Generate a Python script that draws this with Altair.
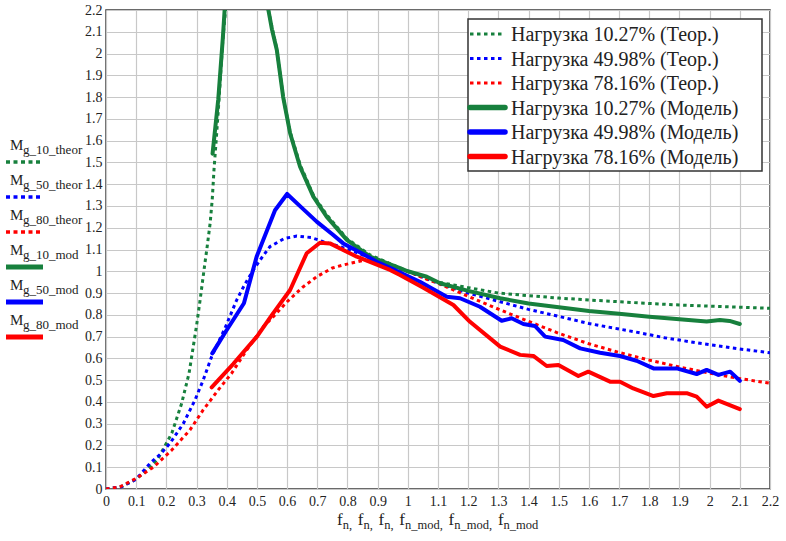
import altair as alt
import pandas as pd

# ---------------- data ----------------
x_th10 = [0, 0.05, 0.10, 0.15, 0.173, 0.20, 0.218, 0.25, 0.275, 0.30, 0.311, 0.328, 0.334, 0.345, 0.352, 0.358,
          0.365, 0.375, 0.387, 0.396, 0.41, 0.43, 0.50, 0.52, 0.538, 0.55, 0.566, 0.587, 0.61, 0.643, 0.687, 0.731,
          0.798, 0.875, 0.95, 1.0, 1.1, 1.2, 1.3, 1.4, 1.5, 1.6, 1.7, 1.8, 1.9, 2.0, 2.1, 2.2]
y_th10 = [0, 0.01, 0.045, 0.105, 0.141, 0.21, 0.256, 0.39, 0.53, 0.75, 0.86, 1.04, 1.10, 1.22, 1.33, 1.47,
          1.60, 1.80, 2.06, 2.2, 2.6, 3.5, 3.5, 2.6, 2.2, 2.12, 2.02, 1.80, 1.64, 1.49, 1.35, 1.26,
          1.15, 1.075, 1.03, 1.0, 0.95, 0.925, 0.90, 0.888, 0.877, 0.868, 0.86, 0.852, 0.845, 0.84, 0.835, 0.83]

x_th50 = [0, 0.05, 0.10, 0.146, 0.18, 0.212, 0.256, 0.295, 0.322, 0.35, 0.394, 0.433, 0.46, 0.488, 0.52, 0.543,
          0.59, 0.632, 0.68, 0.72, 0.76, 0.808, 0.85, 0.9, 0.95, 1.0, 1.1, 1.2, 1.306, 1.4, 1.527, 1.6, 1.747,
          1.85, 1.968, 2.1, 2.2]
y_th50 = [0, 0.01, 0.045, 0.118, 0.16, 0.21, 0.30, 0.409, 0.50, 0.608, 0.738, 0.868, 0.94, 1.006, 1.07, 1.113,
          1.15, 1.162, 1.155, 1.136, 1.12, 1.098, 1.075, 1.045, 1.02, 1.0, 0.945, 0.90, 0.86, 0.825, 0.784, 0.76, 0.723,
          0.695, 0.669, 0.643, 0.626]

x_th80 = [0, 0.046, 0.10, 0.157, 0.218, 0.278, 0.322, 0.372, 0.416, 0.466, 0.521, 0.56, 0.60, 0.65, 0.698, 0.75,
          0.786, 0.853, 0.9, 0.95, 1.0, 1.05, 1.1, 1.2, 1.3, 1.4, 1.5, 1.6, 1.7, 1.8, 1.9, 2.0, 2.1, 2.2]
y_th80 = [0, 0.01, 0.049, 0.10, 0.179, 0.271, 0.363, 0.455, 0.531, 0.638, 0.745, 0.80, 0.86, 0.925, 0.975, 1.015,
          1.029, 1.05, 1.045, 1.025, 1.0, 0.97, 0.945, 0.885, 0.826, 0.77, 0.715, 0.667, 0.627, 0.592, 0.56, 0.532, 0.507, 0.486]

x_mod10 = [0.353, 0.372, 0.387, 0.40, 0.53, 0.538, 0.55, 0.566, 0.587, 0.61, 0.643, 0.687, 0.731, 0.798, 0.875,
           0.974, 1.0, 1.063, 1.107, 1.2, 1.306, 1.4, 1.527, 1.6, 1.7, 1.8, 1.9, 1.99, 2.034, 2.066, 2.10]
y_mod10 = [1.54, 1.79, 2.07, 2.35, 2.35, 2.2, 2.11, 2.016, 1.80, 1.634, 1.48, 1.343, 1.251, 1.144, 1.067,
           1.014, 1.0, 0.975, 0.945, 0.91, 0.876, 0.852, 0.83, 0.818, 0.805, 0.791, 0.78, 0.769, 0.776, 0.772, 0.758]

x_mod50 = [0.352, 0.40, 0.457, 0.499, 0.56, 0.60, 0.65, 0.698, 0.75, 0.786, 0.85, 0.897, 0.95, 1.04, 1.129, 1.173,
           1.239, 1.311, 1.344, 1.383, 1.421, 1.455, 1.515, 1.571, 1.637, 1.703, 1.758, 1.814, 1.891, 1.957, 1.99,
           2.029, 2.068, 2.10]
y_mod50 = [0.623, 0.73, 0.853, 1.067, 1.28, 1.355, 1.29, 1.228, 1.17, 1.128, 1.08, 1.044, 1.01, 0.952, 0.883, 0.876,
           0.837, 0.773, 0.784, 0.758, 0.749, 0.70, 0.684, 0.646, 0.626, 0.611, 0.589, 0.554, 0.554, 0.528, 0.547,
           0.524, 0.539, 0.497]

x_mod80 = [0.35, 0.422, 0.50, 0.55, 0.61, 0.665, 0.709, 0.742, 0.831, 0.941, 0.974, 1.05, 1.151, 1.206, 1.306,
           1.372, 1.416, 1.46, 1.499, 1.565, 1.598, 1.67, 1.703, 1.747, 1.814, 1.858, 1.924, 1.957, 1.99, 2.029, 2.10]
y_mod80 = [0.467, 0.575, 0.70, 0.80, 0.914, 1.083, 1.131, 1.128, 1.067, 1.006, 0.983, 0.925, 0.845, 0.768, 0.654,
           0.616, 0.611, 0.565, 0.570, 0.519, 0.539, 0.493, 0.493, 0.462, 0.427, 0.44, 0.44, 0.424, 0.378, 0.406, 0.367]

series_names = ["th10", "th50", "th80", "mod10", "mod50", "mod80"]
legend_labels = ["Нагрузка 10.27% (Теор.)", "Нагрузка 49.98% (Теор.)", "Нагрузка 78.16% (Теор.)",
                 "Нагрузка 10.27% (Модель)", "Нагрузка 49.98% (Модель)", "Нагрузка 78.16% (Модель)"]
left_subs = ["g_10_theor", "g_50_theor", "g_80_theor", "g_10_mod", "g_50_mod", "g_80_mod"]
x_title_subs = ["n", "n", "n", "n_mod", "n_mod", "n_mod"]
x_ticks = [0, 0.1, 0.2, 0.3, 0.4, 0.5, 0.6, 0.7, 0.8, 0.9, 1, 1.1, 1.2, 1.3, 1.4, 1.5, 1.6, 1.7, 1.8, 1.9, 2, 2.1, 2.2]
y_ticks = x_ticks

# ---------------- styles ----------------
GREEN, BLUE, RED = "#17803d", "#0000ff", "#ff0000"
colors = [GREEN, BLUE, RED, GREEN, BLUE, RED]
FONT = "Liberation Serif"
TXT = "#222222"
DASH = [3.5, 3.5]

data_xy = {"th10": (x_th10, y_th10), "th50": (x_th50, y_th50), "th80": (x_th80, y_th80),
           "mod10": (x_mod10, y_mod10), "mod50": (x_mod50, y_mod50), "mod80": (x_mod80, y_mod80)}
rows = []
for name in series_names:
    xs, ys = data_xy[name]
    for i, (a, b) in enumerate(zip(xs, ys)):
        rows.append({"series": name, "x": a, "y": b, "i": i, "kind": "th" if name.startswith("th") else "mod"})
df = pd.DataFrame(rows)

xscale = alt.Scale(domain=[0, 2.2], nice=False, zero=False)
yscale = alt.Scale(domain=[0, 2.2], nice=False, zero=False)
common_axis = dict(grid=True, gridColor="#c8c8c8", gridWidth=1.2, ticks=False, domain=False,
                   labelFont=FONT, labelFontSize=14, labelColor=TXT, labelOverlap=False, title=None, format="~g")
xaxis = alt.Axis(values=x_ticks, labelPadding=5, labelFlush=False, **common_axis)
yaxis = alt.Axis(values=y_ticks, labelPadding=4, **common_axis)
color = alt.Color("series:N", scale=alt.Scale(domain=series_names, range=colors), legend=None)

enc = dict(x=alt.X("x:Q", scale=xscale, axis=xaxis), y=alt.Y("y:Q", scale=yscale, axis=yaxis),
           color=color, order=alt.Order("i:Q"))

theor = alt.Chart(df[df.kind == "th"]).mark_line(strokeDash=DASH, strokeWidth=3, clip=True).encode(**enc)
model = alt.Chart(df[df.kind == "mod"]).mark_line(strokeWidth=4, strokeCap="round", strokeJoin="round",
                                                  clip=True).encode(**enc)

one = pd.DataFrame({"k": [0]})
layers = [theor, model]

# right legend box
layers.append(alt.Chart(one).mark_rect(fill="white", stroke="#333333", strokeWidth=1.5).encode(
    x=alt.value(362), x2=alt.value(656), y=alt.value(9), y2=alt.value(161)))
for i, (lab, col) in enumerate(zip(legend_labels, colors)):
    yy = 24 + 24.5 * i
    is_th = i < 3
    mk = dict(color=col, strokeWidth=3 if is_th else 5.5)
    if is_th:
        mk["strokeDash"] = DASH
    else:
        mk["strokeCap"] = "round"
    layers.append(alt.Chart(one).mark_rule(**mk).encode(x=alt.value(364), x2=alt.value(399), y=alt.value(yy)))
    layers.append(alt.Chart(pd.DataFrame({"t": [lab]})).mark_text(
        align="left", baseline="middle", font=FONT, fontSize=20, color=TXT).encode(
        x=alt.value(405), y=alt.value(yy + 1), text="t:N"))

# left legend (M with subscript, line sample below)
for i, (sub, col) in enumerate(zip(left_subs, colors)):
    yy = 135 + 35 * i
    is_th = i < 3
    layers.append(alt.Chart(one).mark_text(text="M", align="left", baseline="middle", font=FONT,
                                           fontSize=15, color=TXT).encode(x=alt.value(-96), y=alt.value(yy)))
    layers.append(alt.Chart(pd.DataFrame({"t": [sub]})).mark_text(
        align="left", baseline="middle", font=FONT, fontSize=13, color=TXT).encode(
        x=alt.value(-83), y=alt.value(yy + 5), text="t:N"))
    mk = dict(color=col, strokeWidth=3.5 if is_th else 5)
    if is_th:
        mk["strokeDash"] = [4, 3.5]
    layers.append(alt.Chart(one).mark_rule(**mk).encode(x=alt.value(-100), x2=alt.value(-63),
                                                        y=alt.value(yy + 17)))

# x-axis title with subscripts
F_MAIN, F_SUB = 17, 12.5
W = {"f": 0.333, "n": 0.5, "_": 0.5, "m": 0.778, "o": 0.5, "d": 0.5, ",": 0.25, " ": 0.25}
cx = 231.0
for k, sub in enumerate(x_title_subs):
    layers.append(alt.Chart(one).mark_text(text="f", align="left", baseline="alphabetic", font=FONT,
                                           fontSize=F_MAIN, color=TXT).encode(x=alt.value(cx), y=alt.value(515)))
    cx += W["f"] * F_MAIN
    txt = sub + ("," if k < len(x_title_subs) - 1 else "")
    layers.append(alt.Chart(pd.DataFrame({"t": [txt]})).mark_text(
        align="left", baseline="alphabetic", font=FONT, fontSize=F_SUB, color=TXT).encode(
        x=alt.value(cx), y=alt.value(519), text="t:N"))
    cx += sum(W[c] for c in sub) * F_SUB
    if k < len(x_title_subs) - 1:
        cx += W[","] * F_SUB + W[" "] * F_MAIN + 1.5

chart = alt.layer(*layers).properties(
    width=664, height=479,
    autosize=alt.AutoSizeParams(type="none"),
    padding={"left": 106, "top": 10, "right": 16, "bottom": 52},
).configure_view(stroke="#3a3a3a", strokeWidth=1.5)

chart.save("out.html", embed_options={"renderer": "svg", "actions": False})
